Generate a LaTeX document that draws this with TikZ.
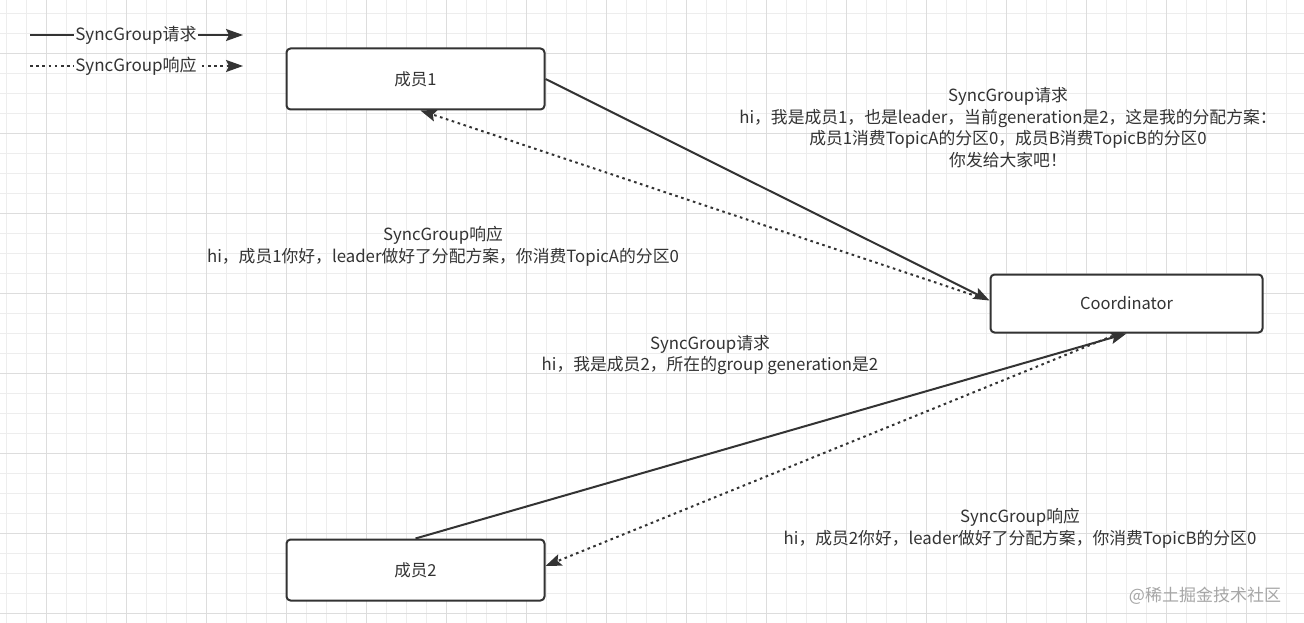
\documentclass[tikz,border=0pt]{standalone}
\usepackage{fontspec}
\setmainfont{Noto Sans CJK SC}
\usetikzlibrary{arrows.meta}
\definecolor{gridminor}{HTML}{EDEDED}
\definecolor{gridmajor}{HTML}{DDDDDD}
\definecolor{ink}{HTML}{333333}

\begin{document}
\begin{tikzpicture}[x=1pt, y=-1pt,
  box node/.style={draw=ink, line width=2pt, rounded corners=4pt, fill=white, minimum width=258pt, minimum height=61pt, font=\fontsize{16.5}{18}\selectfont, text=ink},
  text node/.style={align=center, font=\fontsize{16.8}{21.6}\selectfont, text=ink},
  legend node/.style={inner sep=1pt, font=\fontsize{17}{18}\selectfont, text=ink},
  req/.style={line width=2pt, draw=ink, -{Stealth[length=16pt, width=12pt, inset=3pt]}},
  resp/.style={req, dash pattern=on 2.6pt off 3.6pt},
  leg/.style={line width=2pt, draw=ink}]
\useasboundingbox (0,0) rectangle (1304,623);
\fill[white] (0,0) rectangle (1304,623);
\foreach \x in {6,26,...,1304} \draw[gridminor, line width=0.8pt] (\x,0) -- (\x,623);
\foreach \y in {13,33,...,623} \draw[gridminor, line width=0.8pt] (0,\y) -- (1304,\y);
\foreach \x in {46,126,...,1304} \draw[gridmajor, line width=0.8pt] (\x,0) -- (\x,623);
\foreach \y in {53,133,...,623} \draw[gridmajor, line width=0.8pt] (0,\y) -- (1304,\y);

\node[legend node] (lq) at (136,35) {SyncGroup请求};
\node[legend node] (lr) at (136,66) {SyncGroup响应};
\coordinate (lqa) at (30,35);
\coordinate (lqb) at (243,35);
\coordinate (lra) at (30,66);
\coordinate (lrb) at (243,66);
\draw[leg] (lqa) -- (lq.west);
\draw[leg, -{Stealth[length=17pt, width=12pt, inset=3pt]}] (lq.east) -- (lqb);
\draw[leg, dash pattern=on 2.6pt off 3.6pt] (lra) -- (lr.west);
\draw[leg, dash pattern=on 2.6pt off 3.6pt, -{Stealth[length=17pt, width=12pt, inset=3pt]}] ([xshift=4pt]lr.east) -- (lrb);

\node[box node] (m1) at (415.5,79) {成员1};
\node[box node, minimum width=272pt, minimum height=58pt] (co) at (1126.5,303.5) {Coordinator};
\node[box node] (m2) at (415.5,570) {成员2};

\draw[req] (m1.east) -- ([yshift=3pt]co.west);
\draw[resp] ([xshift=-6pt, yshift=5pt]co.west) -- ([xshift=5pt]m1.south);
\draw[req] (m2.north) -- (co.south);
\draw[resp] ([xshift=-8pt]co.south) -- ([yshift=4pt]m2.east);

\node[text node] (t1) at (1008,127.5) {SyncGroup请求\\hi，我是成员1，也是leader，当前generation是2，这是我的分配方案：\\成员1消费TopicA的分区0，成员B消费TopicB的分区0\\你发给大家吧！};
\node[text node] (t2) at (443,246.5) {SyncGroup响应\\hi，成员1你好，leader做好了分配方案，你消费TopicA的分区0};
\node[text node] (t3) at (710,355) {SyncGroup请求\\hi，我是成员2，所在的group generation是2};
\node[text node] (t4) at (1020,528.5) {SyncGroup响应\\hi，成员2你好，leader做好了分配方案，你消费TopicB的分区0};
\node[text=black!35, font=\fontsize{17}{20}\selectfont] (wm) at (1205,596) {@稀土掘金技术社区};
\end{tikzpicture}
\end{document}
